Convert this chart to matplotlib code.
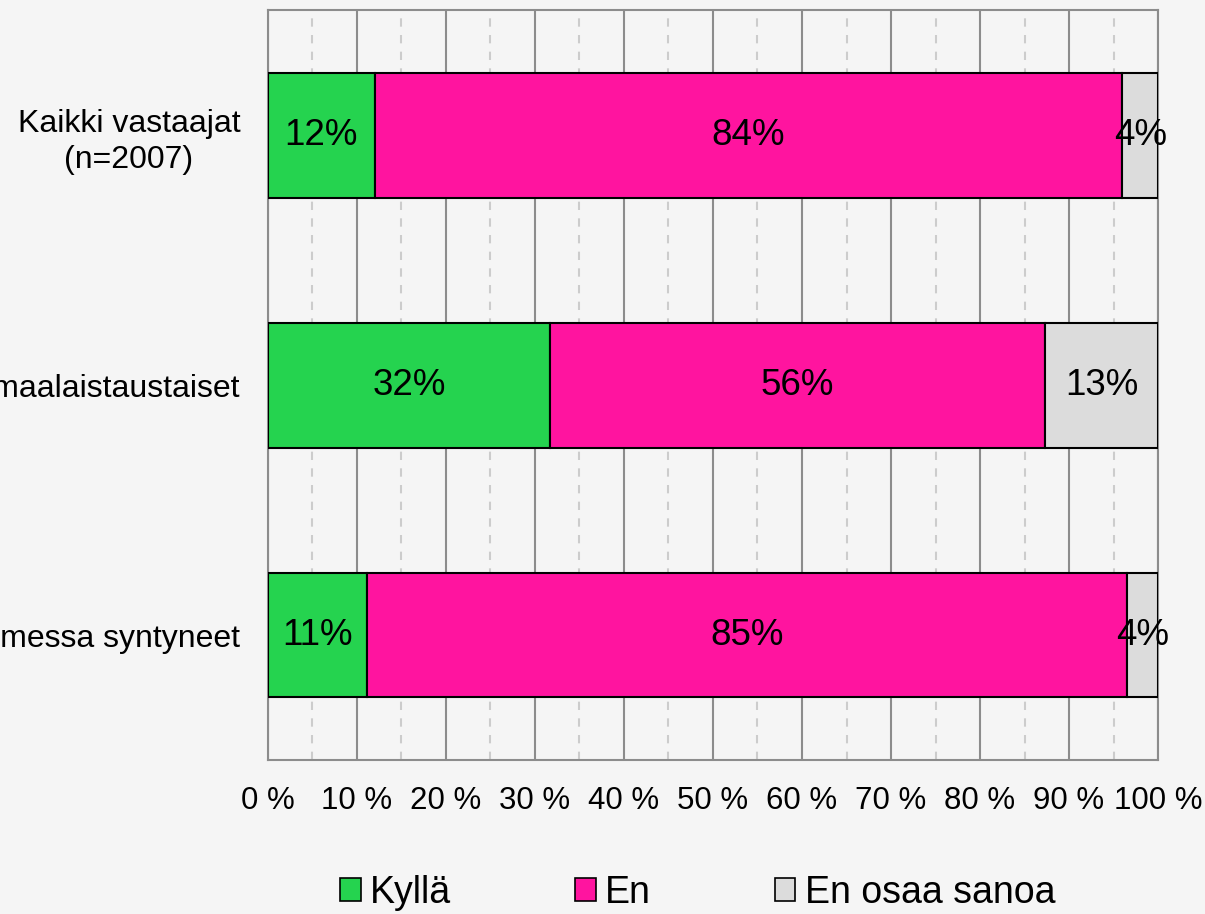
import matplotlib.pyplot as plt
import numpy as np
from matplotlib.patches import Patch
from matplotlib.ticker import MultipleLocator, FuncFormatter

# data (percent)
groups = ["Kaikki vastaajat\n(n=2007)", "Ulkomaalaistaustaiset", "Suomessa syntyneet"]
kylla = [12.0, 31.7, 11.1]
en = [84.0, 55.6, 85.4]
eos = [4.0, 12.7, 3.5]
series_names = ["Kyllä", "En", "En osaa sanoa"]
colors = ["#25d34f", "#ff149f", "#dcdcdc"]

plt.rcParams['font.family'] = ['Liberation Sans', 'DejaVu Sans']

fig = plt.figure(figsize=(12.05, 9.14), dpi=100, facecolor="#f5f5f5")
ax = fig.add_axes([0.2224, 0.1685, 0.7386, 0.8205])
ax.set_facecolor("#f5f5f5")

y = np.arange(len(groups))
left = np.zeros(len(groups))
for vals, col in zip([kylla, en, eos], colors):
    bars = ax.barh(y, vals, left=left, height=0.5, color=col,
                   edgecolor="black", linewidth=1.5, zorder=3)
    for b, v in zip(bars, vals):
        ax.text(b.get_x() + b.get_width() / 2, b.get_y() + b.get_height() / 2,
                "%d%%" % round(v), ha="center", va="center",
                fontsize=26.5, color="black", zorder=4)
    left += np.array(vals)

ax.set_xlim(0, 100)
ax.set_ylim(2.5, -0.5)
ax.xaxis.set_major_locator(MultipleLocator(10))
ax.xaxis.set_minor_locator(MultipleLocator(5))
ax.xaxis.set_major_formatter(FuncFormatter(lambda v, p: "%d %%" % v))
ax.grid(axis="x", which="major", color="#8c8c8c", linewidth=1.5, zorder=0)
ax.grid(axis="x", which="minor", color="#cccccc", linewidth=1.5,
        linestyle=(0, (4, 4)), zorder=0)
ax.set_yticks(y)
ax.set_yticklabels(groups, multialignment="center", linespacing=1.3)
ax.tick_params(axis="x", which="both", length=0, pad=19, labelsize=22.5)
ax.tick_params(axis="y", length=0, pad=20, labelsize=23)
for s in ax.spines.values():
    s.set_color("#8c8c8c")
    s.set_linewidth(1.5)

handles = [Patch(facecolor=c, edgecolor="black", linewidth=1.2) for c in colors]
leg = fig.legend(handles, series_names, loc="center", ncol=3,
                 bbox_to_anchor=(0.579, 0.023), frameon=False,
                 handlelength=0.55, handleheight=0.55, handletextpad=0.25,
                 columnspacing=3.3, prop={"size": 27})

fig.savefig("out.png", dpi=100, facecolor=fig.get_facecolor())
